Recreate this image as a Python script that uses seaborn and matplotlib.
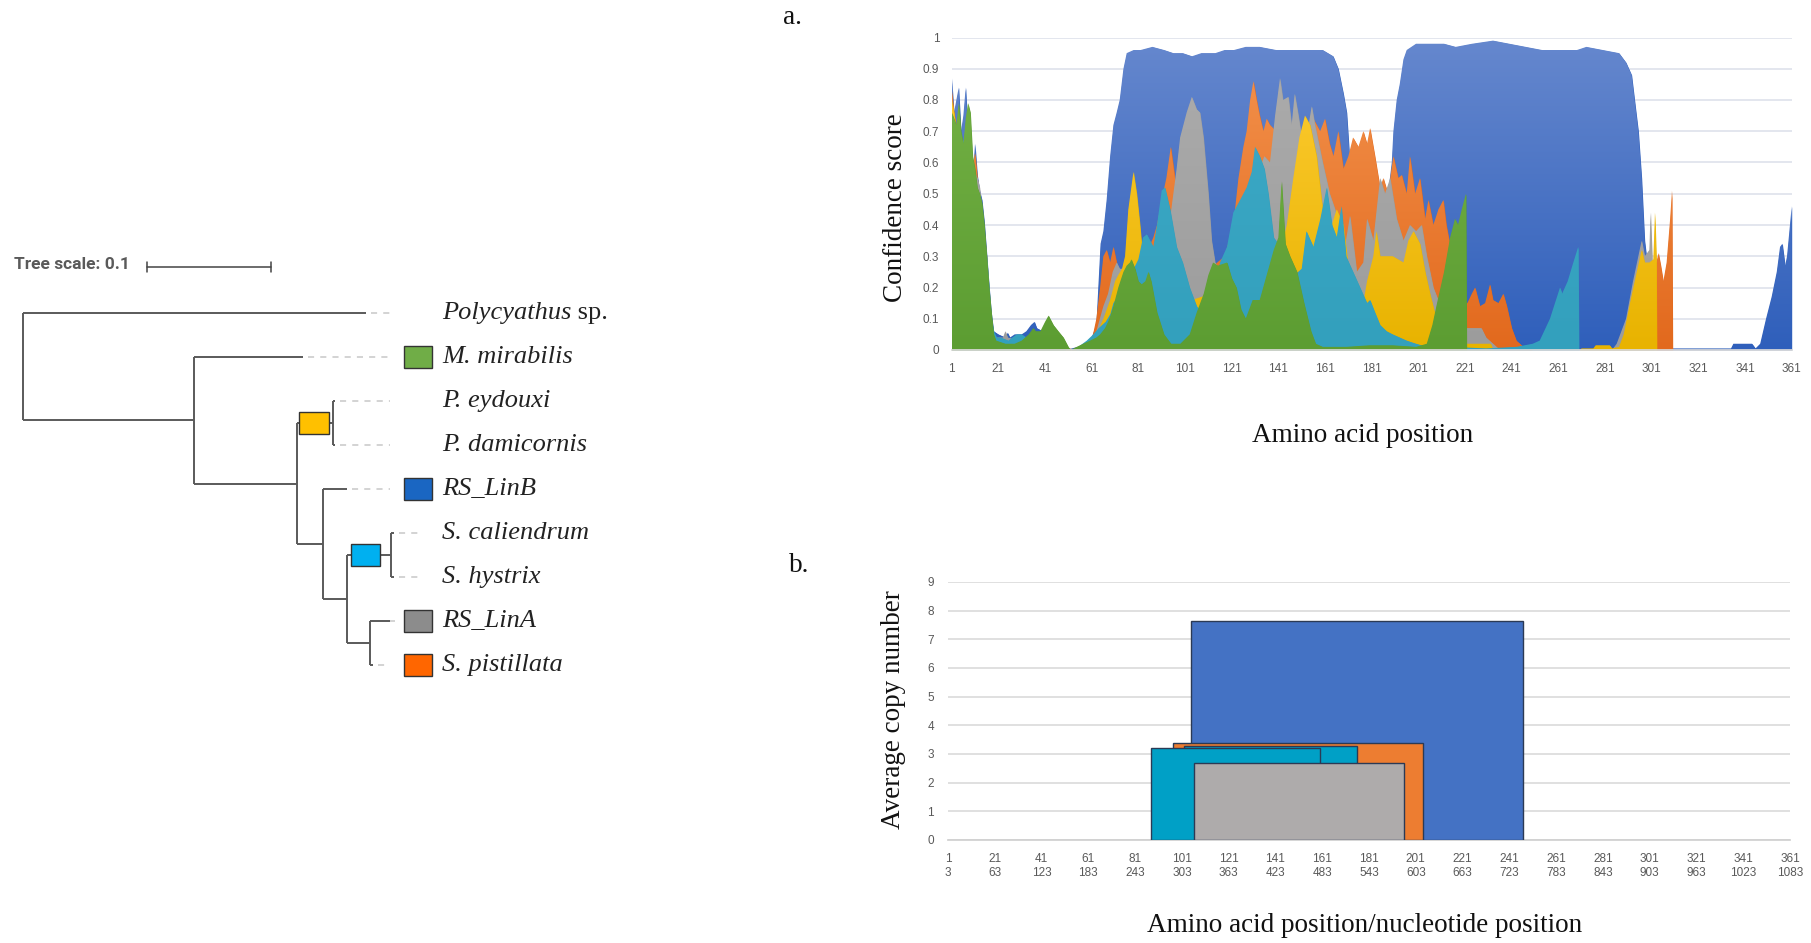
import numpy as np
import matplotlib
matplotlib.use('Agg')
import matplotlib.pyplot as plt
import seaborn as sns
from matplotlib.colors import LinearSegmentedColormap
from matplotlib.patches import Rectangle
from matplotlib.ticker import FuncFormatter

# %%
# Tree (left panel)
leaf_names = ['Polycyathus', 'M. mirabilis', 'P. eydouxi', 'P. damicornis', 'RS_LinB',
              'S. caliendrum', 'S. hystrix', 'RS_LinA', 'S. pistillata']
leaf_depth = [0.277, 0.226, 0.252, 0.252, 0.261, 0.299, 0.299, 0.296, 0.282]
leaf_dash_end = [0.296, 0.296, 0.296, 0.296, 0.296, 0.3226, 0.3226, 0.296, 0.296]
leaf_box = [None, '#70AD47', None, None, '#1A66C2', None, None, '#8C8C8C', '#FF6600']

clade_names = ['root', 'A', 'B', 'poc', 'C', 'D', 'sty', 'E']
clade_depth = [0.0, 0.138, 0.221, 0.25, 0.242, 0.261, 0.297, 0.28]
clade_children = [[0, 'A'], [1, 'B'], ['poc', 'C'], [2, 3], [4, 'D'], ['sty', 'E'], [5, 6], [7, 8]]
clade_box_name = ['poc', 'sty']
clade_box_center = [0.2347, 0.2762]
clade_box_color = ['#FFC000', '#00B0F0']

# %%
# Confidence score per residue (area chart), series listed back to front
linb_pos = [1, 2, 3, 4, 5, 6, 7, 8, 9, 10,
            11, 12, 13, 14, 15, 16, 17, 18, 19, 21,
            24, 25, 26, 28, 31, 33, 35, 36.5, 37.5, 40,
            42, 50, 55, 60, 63, 64.8, 66, 67.4, 68.9, 70.3,
            71.7, 73, 74.6, 76, 79, 82, 87, 92, 96, 100,
            104, 108, 114, 118, 122, 127, 133, 140, 150, 160,
            164.5, 166.7, 168.9, 170.3, 171.7, 173, 178, 184, 188, 189.6,
            190.3, 191.7, 193, 194.6, 196, 200, 212, 217, 224, 233,
            240, 247, 254, 262, 269, 273, 280, 287, 290, 292.4,
            294, 295.3, 296.7, 298, 299.6, 300.5, 301.5, 303, 335, 336,
            344, 345.5, 347.5, 350, 352.4, 354.6, 356, 357, 358.2, 359,
            360, 361]
linb_val = [0.87, 0.76, 0.80, 0.84, 0.70, 0.75, 0.84, 0.70, 0.64, 0.55,
            0.66, 0.56, 0.51, 0.48, 0.41, 0.31, 0.21, 0.12, 0.06, 0.05,
            0.04, 0.055, 0.04, 0.05, 0.05, 0.06, 0.08, 0.09, 0.07, 0.06,
            0.05, 0.0, 0.01, 0.02, 0.08, 0.34, 0.38, 0.48, 0.62, 0.72,
            0.76, 0.80, 0.90, 0.95, 0.96, 0.96, 0.97, 0.96, 0.95, 0.95,
            0.94, 0.95, 0.95, 0.96, 0.96, 0.97, 0.97, 0.96, 0.96, 0.96,
            0.94, 0.90, 0.82, 0.76, 0.60, 0.48, 0.40, 0.42, 0.50, 0.60,
            0.70, 0.80, 0.85, 0.93, 0.96, 0.98, 0.98, 0.97, 0.98, 0.99,
            0.98, 0.97, 0.96, 0.96, 0.96, 0.97, 0.96, 0.95, 0.92, 0.88,
            0.78, 0.70, 0.55, 0.35, 0.25, 0.32, 0.20, 0.005, 0.005, 0.02,
            0.02, 0.005, 0.02, 0.10, 0.17, 0.25, 0.33, 0.34, 0.27, 0.30,
            0.38, 0.46]

pist_pos = [1, 2, 3, 4, 6, 8, 10, 11, 12, 13,
            14, 16, 17, 18, 19, 22, 30, 40, 55, 59,
            61, 63, 64.6, 66, 67.4, 68.9, 70.3, 71.7, 73, 76,
            80, 84, 87.4, 89, 91, 93, 94.9, 96.7, 98, 100,
            110, 118, 121.7, 123.9, 126, 127.4, 128.9, 130.3, 131.7, 133,
            134.6, 136, 137.4, 140, 145, 150, 153, 156, 158.9, 161,
            163, 164.6, 166.7, 168.9, 171, 173, 175.3, 177.4, 179, 180.3,
            182.4, 184.6, 186, 188, 190.3, 192.4, 193.9, 196, 197.4, 199.6,
            201.7, 203.9, 205.3, 207.4, 209.6, 211.7, 213, 215, 218, 221,
            222, 223.9, 225.3, 227.4, 229.6, 231.7, 233, 235.3, 237.4, 238.9,
            241, 243, 246, 250, 302.9, 303, 303.9, 304.9, 306, 307.4,
            308.9, 309.7, 310, 361]
pist_val = [0.83, 0.76, 0.72, 0.70, 0.66, 0.70, 0.58, 0.63, 0.55, 0.50,
            0.45, 0.30, 0.18, 0.10, 0.04, 0.03, 0.03, 0.02, 0.0, 0.01,
            0.03, 0.10, 0.20, 0.30, 0.32, 0.28, 0.33, 0.28, 0.24, 0.22,
            0.25, 0.30, 0.36, 0.40, 0.48, 0.55, 0.65, 0.55, 0.40, 0.30,
            0.25, 0.30, 0.40, 0.55, 0.65, 0.70, 0.80, 0.86, 0.80, 0.75,
            0.70, 0.74, 0.72, 0.70, 0.68, 0.62, 0.70, 0.74, 0.70, 0.74,
            0.66, 0.62, 0.70, 0.58, 0.62, 0.68, 0.65, 0.70, 0.66, 0.71,
            0.62, 0.52, 0.55, 0.50, 0.62, 0.55, 0.56, 0.50, 0.62, 0.50,
            0.55, 0.42, 0.48, 0.40, 0.45, 0.48, 0.40, 0.32, 0.22, 0.15,
            0.15, 0.18, 0.20, 0.14, 0.15, 0.21, 0.16, 0.15, 0.18, 0.14,
            0.07, 0.03, 0.01, 0.0, 0.0, 0.28, 0.31, 0.27, 0.22, 0.28,
            0.42, 0.51, 0.0, 0.0]

lina_pos = [1, 3, 5, 8, 10, 12, 13, 14, 16, 18,
            19, 23, 24, 25, 30, 40, 55, 60, 63, 66,
            68, 70, 71.7, 73, 75.3, 78, 82, 86, 90, 93,
            94.6, 96, 97.4, 98.9, 101.7, 103.9, 106, 107.4, 108.9, 111,
            112.4, 113.9, 116, 120, 125, 130, 133, 135, 137.4, 139.6,
            141.7, 143, 145.3, 146.7, 148, 149.6, 151.7, 153.5, 155.3, 156.7,
            160, 163, 165.3, 168.9, 171.7, 174.6, 177.4, 179, 181.7, 184.6,
            186.7, 188.9, 191.7, 194.6, 197.4, 200, 202.4, 204.6, 207.4, 210,
            215, 221, 222, 228, 230, 233, 236, 284, 286, 290,
            293, 296.7, 298, 300, 300.5, 301.2, 302, 361]
lina_val = [0.80, 0.70, 0.65, 0.70, 0.58, 0.55, 0.52, 0.44, 0.30, 0.10,
            0.04, 0.04, 0.06, 0.04, 0.03, 0.02, 0.0, 0.02, 0.06, 0.14,
            0.18, 0.25, 0.28, 0.26, 0.26, 0.24, 0.22, 0.20, 0.25, 0.35,
            0.42, 0.50, 0.58, 0.68, 0.76, 0.81, 0.77, 0.76, 0.68, 0.50,
            0.35, 0.28, 0.25, 0.30, 0.40, 0.50, 0.58, 0.62, 0.60, 0.75,
            0.87, 0.80, 0.81, 0.72, 0.82, 0.75, 0.65, 0.70, 0.78, 0.72,
            0.60, 0.50, 0.45, 0.30, 0.43, 0.25, 0.28, 0.42, 0.35, 0.55,
            0.50, 0.55, 0.42, 0.35, 0.40, 0.38, 0.40, 0.30, 0.20, 0.15,
            0.10, 0.07, 0.07, 0.07, 0.04, 0.02, 0.0, 0.0, 0.02, 0.10,
            0.22, 0.35, 0.30, 0.32, 0.44, 0.30, 0.0, 0.0]

poc_pos = [1, 2, 3, 5, 8, 10, 12, 14, 16, 18,
           19, 30, 50, 58, 61, 63, 66, 68.9, 71, 72.4,
           74, 75.3, 76.7, 78.9, 80.3, 81.7, 82.9, 85, 100, 120,
           135, 142, 144.6, 147.4, 150, 152.4, 154.6, 157.4, 160, 163,
           166, 168.9, 171.7, 174.6, 177.4, 179, 181.7, 183, 184.6, 187.4,
           190, 194.6, 196.7, 198.9, 201.7, 203.9, 206, 208, 215, 221,
           222, 232, 233, 270, 271, 276, 277, 283, 284, 287,
           289, 291.7, 294.6, 296.7, 298, 300, 301.7, 302.4, 303, 303.2,
           361]
poc_val = [0.80, 0.76, 0.70, 0.64, 0.70, 0.56, 0.50, 0.42, 0.28, 0.08,
           0.03, 0.02, 0.0, 0.0, 0.02, 0.05, 0.10, 0.16, 0.22, 0.24,
           0.26, 0.30, 0.45, 0.57, 0.50, 0.40, 0.30, 0.25, 0.15, 0.20,
           0.30, 0.32, 0.40, 0.55, 0.68, 0.75, 0.72, 0.62, 0.45, 0.38,
           0.45, 0.40, 0.22, 0.20, 0.15, 0.22, 0.30, 0.38, 0.30, 0.30,
           0.30, 0.28, 0.35, 0.38, 0.34, 0.25, 0.18, 0.12, 0.05, 0.02,
           0.02, 0.02, 0.0, 0.0, 0.005, 0.005, 0.015, 0.015, 0.005, 0.01,
           0.05, 0.15, 0.25, 0.32, 0.28, 0.28, 0.29, 0.44, 0.29, 0.0,
           0.0]

sty_pos = [1, 3, 5, 8, 10, 12, 14, 16, 18, 19,
           20.3, 22, 25.3, 27, 28.9, 31, 33, 40, 50, 54,
           56, 58.9, 61.7, 64, 67, 69, 70.3, 75, 81, 83,
           84.6, 87.4, 89, 91, 92.4, 94.6, 97.4, 100, 103, 106,
           108, 112, 116, 119, 121.7, 124.6, 127.4, 129.6, 131, 133,
           135, 136.7, 139, 140, 144, 148, 151, 153, 156, 159,
           161.7, 164, 166, 168, 170, 173, 176, 179, 180.3, 182.4,
           184.6, 187.4, 190, 193, 196, 200, 204.6, 215, 230, 243,
           250, 253, 257.4, 261.7, 262.6, 265, 267, 269.5, 269.8, 361]
sty_val = [0.74, 0.70, 0.64, 0.72, 0.56, 0.50, 0.44, 0.30, 0.10, 0.06,
           0.04, 0.04, 0.03, 0.04, 0.05, 0.05, 0.04, 0.02, 0.0, 0.0,
           0.014, 0.03, 0.05, 0.07, 0.09, 0.115, 0.15, 0.20, 0.29, 0.36,
           0.37, 0.33, 0.40, 0.51, 0.52, 0.45, 0.33, 0.28, 0.20, 0.14,
           0.12, 0.14, 0.28, 0.33, 0.44, 0.48, 0.52, 0.57, 0.65, 0.62,
           0.58, 0.50, 0.36, 0.35, 0.28, 0.24, 0.26, 0.38, 0.33, 0.42,
           0.52, 0.40, 0.36, 0.46, 0.30, 0.25, 0.20, 0.15, 0.16, 0.12,
           0.08, 0.06, 0.05, 0.04, 0.03, 0.02, 0.01, 0.01, 0.005, 0.01,
           0.02, 0.03, 0.10, 0.20, 0.18, 0.22, 0.27, 0.33, 0.0, 0.0]

mir_pos = [1, 2, 3, 4, 5, 6, 7, 8, 9, 10,
           11, 12, 13, 14, 15, 16, 17, 18, 19, 20,
           24, 28, 31, 34, 36, 37, 39, 41, 42.5, 44.6,
           46.7, 48.9, 51, 52, 54.6, 57.4, 60.3, 63, 64.6, 66.7,
           68, 69, 70.3, 72.4, 74.6, 76, 77.4, 78, 79.6, 81,
           82.4, 84, 85.3, 86.5, 89, 92, 95, 99, 103, 106,
           109, 111, 113, 115, 119, 121, 123, 125, 127, 130,
           133, 136, 139, 141, 142.4, 144, 146, 149, 152, 155,
           157, 160, 170, 180, 190, 200, 204.6, 207, 209, 212,
           214.6, 216.7, 218, 219.6, 221.4, 221.7, 361]
mir_val = [0.76, 0.74, 0.72, 0.79, 0.70, 0.66, 0.74, 0.79, 0.76, 0.62,
           0.58, 0.52, 0.50, 0.47, 0.40, 0.30, 0.20, 0.12, 0.05, 0.03,
           0.02, 0.02, 0.03, 0.05, 0.07, 0.06, 0.06, 0.09, 0.11, 0.08,
           0.06, 0.04, 0.01, 0.0, 0.01, 0.02, 0.03, 0.04, 0.05, 0.07,
           0.09, 0.11, 0.14, 0.20, 0.25, 0.27, 0.28, 0.29, 0.26, 0.22,
           0.21, 0.22, 0.25, 0.22, 0.12, 0.05, 0.02, 0.02, 0.05, 0.12,
           0.18, 0.24, 0.28, 0.27, 0.28, 0.23, 0.20, 0.13, 0.10, 0.16,
           0.16, 0.24, 0.32, 0.36, 0.54, 0.34, 0.30, 0.25, 0.15, 0.06,
           0.02, 0.01, 0.01, 0.015, 0.015, 0.01, 0.02, 0.08, 0.15, 0.25,
           0.36, 0.42, 0.40, 0.45, 0.50, 0.0, 0.0]

# %%
# Average copy number per domain span (b)
cn_start = [105, 97, 102, 88, 106]
cn_end = [247, 204, 176, 160, 196]
cn_mean = [7.65, 3.40, 3.27, 3.21, 2.70]
cn_color = ['#4472C4', '#ED7D31', '#00A0C6', '#00A0C6', '#AEABAB']

aa_ticks = list(range(1, 362, 20))

# %%
sns.set_theme(style='white')
plt.rcParams['font.family'] = ['DejaVu Sans']
serif = ['Liberation Serif', 'DejaVu Serif']
narrow = ['Liberation Sans Narrow', 'Liberation Sans', 'DejaVu Sans']

W, H = 1811, 943
fig = plt.figure(figsize=(W / 100, H / 100), dpi=100)

# ---- tree ----
# axes spans pixels x 0..620, y 240..800; 1240 px per tree unit, 44 px per leaf
tax = fig.add_axes([0, 1 - 800 / H, 620 / W, 560 / H])
tax.set_xlim(-23 / 1240, 597 / 1240)
tax.set_ylim((800 - 313) / 44, (240 - 313) / 44)
tax.axis('off')


def node_y(n):
    if isinstance(n, int):
        return n
    ch = clade_children[clade_names.index(n)]
    return (node_y(ch[0]) + node_y(ch[-1])) / 2


def node_x(n):
    if isinstance(n, int):
        return leaf_depth[n]
    return clade_depth[clade_names.index(n)]


line_kw = dict(color='#5a5a5a', lw=1.4, solid_capstyle='butt', zorder=2)
for name, d, ch in zip(clade_names, clade_depth, clade_children):
    ys = [node_y(c) for c in ch]
    tax.plot([d, d], [min(ys), max(ys)], **line_kw)
    for c in ch:
        tax.plot([d, node_x(c)], [node_y(c), node_y(c)], **line_kw)

for i, name in enumerate(leaf_names):
    tax.plot([leaf_depth[i] + 0.004, leaf_dash_end[i]], [i, i], color='#c8c8c8',
             lw=1.1, ls=(0, (4, 4)), zorder=1)
    if leaf_box[i]:
        tax.add_patch(Rectangle((0.307, i - 0.25), 0.0226, 0.5, facecolor=leaf_box[i],
                                edgecolor='#333333', lw=1, zorder=3))
    t = tax.text(0.338, i, name, style='italic', family=serif, fontsize=19,
                 va='center', ha='left', color='#222222')
    if name == 'Polycyathus':
        tax.annotate(' sp.', xy=(1, 0), xycoords=t, va='bottom', ha='left',
                     family=serif, fontsize=19, color='#222222')

for name, xc, col in zip(clade_box_name, clade_box_center, clade_box_color):
    yc = node_y(name)
    tax.add_patch(Rectangle((xc - 0.012, yc - 0.24), 0.024, 0.48, facecolor=col,
                            edgecolor='#333333', lw=1, zorder=3))

# tree scale bar (0.1 units)
tax.plot([0.1, 0.2], [-1.045, -1.045], color='#444444', lw=1.1)
tax.plot([0.1, 0.1], [-1.16, -0.93], color='#444444', lw=1.1)
tax.plot([0.2, 0.2], [-1.16, -0.93], color='#444444', lw=1.1)
tax.text(-0.0075, -1.1, 'Tree scale: 0.1', family=['Roboto', 'DejaVu Sans'], fontsize=12.5,
         fontweight='bold', color='#5a5a5a', va='center', ha='left')

# ---- a. confidence score area chart ----
ax1 = fig.add_axes([951.7 / W, 1 - 350 / H, 840 / W, 312.5 / H])
series = [
    (linb_pos, linb_val, '#6688CE', '#2F5FBB'),
    (pist_pos, pist_val, '#F4944F', '#E2691D'),
    (lina_pos, lina_val, '#ADADAD', '#9C9C9C'),
    (poc_pos, poc_val, '#FFCD36', '#E8B300'),
    (sty_pos, sty_val, '#3EAAC7', '#33A0BD'),
    (mir_pos, mir_val, '#76B347', '#5C9D32'),
]
grad = np.linspace(0, 1, 256).reshape(-1, 1)
for z, (px, py, ctop, cbot) in enumerate(series):
    poly = ax1.fill_between(px, py, 0, color=cbot, linewidth=0, zorder=2 + z)
    cmap = LinearSegmentedColormap.from_list('g%d' % z, [cbot, ctop])
    im = ax1.imshow(grad, cmap=cmap, origin='lower', aspect='auto',
                    extent=(1, 361, 0, 1), zorder=2.5 + z, interpolation='bilinear')
    im.set_clip_path(poly.get_paths()[0], transform=ax1.transData)

ax1.set_xlim(1, 361)
ax1.set_ylim(0, 1)
ax1.set_xticks(aa_ticks)
ax1.set_yticks(np.linspace(0, 1, 11))
ax1.yaxis.set_major_formatter(FuncFormatter(lambda v, p: f'{round(v, 1):g}'))
ax1.set_axisbelow(True)
ax1.yaxis.grid(True, color='#E3E6EE', lw=1.4, zorder=0)
ax1.xaxis.grid(False)
for s in ['top', 'right', 'left']:
    ax1.spines[s].set_visible(False)
ax1.spines['bottom'].set_color('#D9D9D9')
ax1.spines['bottom'].set_zorder(10)
ax1.tick_params(axis='x', length=5, width=1, color='#D9D9D9', labelsize=8.5,
                labelcolor='#595959', pad=4)
ax1.tick_params(axis='y', length=0, labelsize=8.5, labelcolor='#595959', pad=9)
for lab in ax1.get_xticklabels() + ax1.get_yticklabels():
    lab.set_family(narrow)

# ---- b. average copy number ----
ax2 = fig.add_axes([948 / W, 1 - 840 / H, 842 / W, 258 / H])
for s0, s1, m, c in zip(cn_start, cn_end, cn_mean, cn_color):
    ax2.bar(s0, m, width=s1 - s0, align='edge', color=c, edgecolor='#2b3a55',
            linewidth=1.0, zorder=3)
ax2.set_xlim(1, 361)
ax2.set_ylim(0, 9)
ax2.set_yticks(range(0, 10))
ax2.set_xticks(aa_ticks)
ax2.set_xticklabels([f'{a}\n{3 * a}' for a in aa_ticks], linespacing=1.3)
ax2.set_axisbelow(True)
ax2.yaxis.grid(True, color='#DDDDDD', lw=1.3, zorder=0)
ax2.xaxis.grid(False)
for s in ['top', 'right', 'left']:
    ax2.spines[s].set_visible(False)
ax2.spines['bottom'].set_color('#D0D0D0')
ax2.tick_params(axis='x', length=0, labelsize=8.5, labelcolor='#595959', pad=9)
ax2.tick_params(axis='y', length=0, labelsize=8.5, labelcolor='#595959', pad=10)
for lab in ax2.get_xticklabels() + ax2.get_yticklabels():
    lab.set_family(narrow)

# ---- axis titles and panel letters ----
txt = dict(family=serif, fontsize=19.5, color='#111111', ha='center', va='center')
fig.text(895 / W, 1 - 208 / H, 'Confidence score', rotation=90, **txt)
fig.text(1363 / W, 1 - 435 / H, 'Amino acid position', **txt)
fig.text(893 / W, 1 - 710 / H, 'Average copy number', rotation=90, **txt)
fig.text(1365 / W, 1 - 925 / H, 'Amino acid position/nucleotide position', **txt)
fig.text(792 / W, 1 - 18 / H, 'a.', **txt)
fig.text(799 / W, 1 - 565 / H, 'b.', **txt)

fig.savefig('out.png', dpi=100)
